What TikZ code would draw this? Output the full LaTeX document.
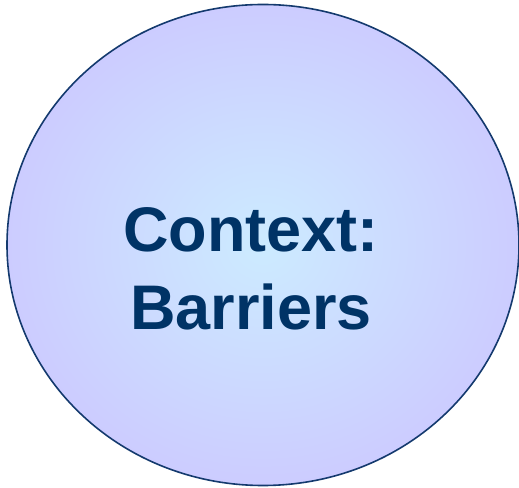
\documentclass[tikz,border=0pt]{standalone}
\usepackage{fontspec}
\setmainfont{Liberation Sans}
\usetikzlibrary{shapes.geometric}
\definecolor{rimc}{HTML}{143A6E}
\definecolor{txtc}{HTML}{003366}
\definecolor{inc}{HTML}{CCEBFF}
\definecolor{outc}{HTML}{CCCCFF}
\tikzset{bubble/.style={ellipse, draw=rimc, line width=1.6pt, inner color=inc, outer color=outc, minimum width=512pt, minimum height=481pt, inner sep=0pt},
 label/.style={font=\bfseries\fontsize{63}{78}\selectfont, text=txtc, align=center}}
\begin{document}
\begin{tikzpicture}[x=1pt,y=1pt]
\useasboundingbox (0,0) rectangle (519,487);
\node[bubble] (b) at (263,242) {};
\node[label] (t) at (251,218) {Context:\\Barriers};
\end{tikzpicture}
\end{document}
